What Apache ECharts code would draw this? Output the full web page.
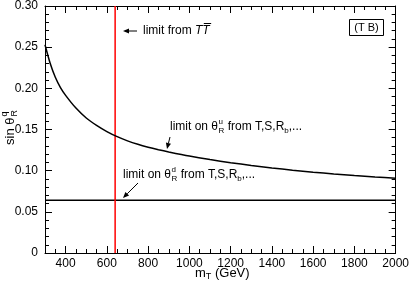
<!DOCTYPE html>
<html><head><meta charset="utf-8">
<script src="https://cdn.jsdelivr.net/npm/echarts@6/dist/echarts.min.js"></script>
<style>html,body{margin:0;padding:0;background:#fff}#c{width:412px;height:284px}</style>
</head><body><div id="c"></div>
<script>
// ---- data ----
const massT = [300, 325, 350, 375, 400, 450, 500, 550, 600, 650, 700, 750, 800, 850, 900, 1000, 1100, 1200, 1300, 1400, 1500, 1600, 1700, 1800, 1900, 2000];
const sinThetaU = [0.253, 0.2305, 0.2135, 0.201, 0.1915, 0.176, 0.164, 0.155, 0.1475, 0.1413, 0.1362, 0.132, 0.1285, 0.1255, 0.1228, 0.1178, 0.1135, 0.1097, 0.1063, 0.1033, 0.1006, 0.0982, 0.096, 0.0941, 0.0924, 0.0909];
const limitTT = 640;          // vertical limit from T Tbar (GeV)
const limitThetaD = 0.064;    // horizontal limit on theta_R^d
const xRange = [300, 2000];
const yRange = [0, 0.30];
const xMajorTicks = [400, 600, 800, 1000, 1200, 1400, 1600, 1800, 2000];
const xMinorTicks = [350, 450, 500, 550, 650, 700, 750, 850, 900, 950, 1050, 1100, 1150, 1250, 1300, 1350, 1450, 1500, 1550, 1650, 1700, 1750, 1850, 1900, 1950];
const yTickStep = 0.05;

const FONT = 'Liberation Sans';
const chart = echarts.init(document.getElementById('c'), null, {renderer: 'canvas'});

const BLK = {color: '#000', width: 1};
function xAx(pos, ticks, len, showLine, showLabel) {
  return {
    type: 'value', min: xRange[0], max: xRange[1], position: pos,
    axisLine: {show: showLine, onZero: false, lineStyle: {color: '#000', width: 1}},
    axisTick: {show: true, inside: true, length: len, customValues: ticks, lineStyle: {color: '#000', width: 1}},
    axisLabel: {show: showLabel, customValues: ticks, color: '#000', fontFamily: FONT, fontSize: 12, margin: 5,
      formatter: v => String(v)},
    splitLine: {show: false}
  };
}
function yAx(pos, showLabel) {
  return {
    type: 'value', min: yRange[0], max: yRange[1], interval: yTickStep, position: pos,
    axisLine: {show: true, onZero: false, lineStyle: {color: '#000', width: 1}},
    axisTick: {show: true, inside: true, length: 7, lineStyle: {color: '#000', width: 1}},
    minorTick: {show: true, splitNumber: 5, length: 4, lineStyle: {color: '#000', width: 1}},
    axisLabel: {show: showLabel, color: '#000', fontFamily: FONT, fontSize: 12, margin: 7,
      formatter: v => v === 0 ? '0' : v.toFixed(2)},
    splitLine: {show: false}
  };
}

const curve = massT.map((m, i) => [m, sinThetaU[i]]);

const mctx = document.createElement('canvas').getContext('2d');
function fontStr(size, italic) { return (italic ? 'italic ' : '') + size + 'px "' + FONT + '"'; }
function measure(t, size, italic) { mctx.font = fontStr(size, italic); return mctx.measureText(t).width; }
function richLine(x, y, segs) {
  const out = [];
  let cx = x;
  segs.forEach(s => {
    const size = s.s || 12;
    out.push({type: 'text', x: cx + (s.dx || 0), y: y + (s.dy || 0),
      style: {text: s.t, fill: '#000', font: fontStr(size, s.i), verticalAlign: 'middle'}});
    if (s.over) {
      const w = measure(s.t, size, s.i);
      out.push({type: 'line', shape: {x1: cx + 1.5, y1: y - 7.5, x2: cx + w + 1.5, y2: y - 7.5}, style: {stroke: '#000', lineWidth: 1}});
    }
    if (!s.keep) cx += measure(s.t, size, s.i) + (s.dx || 0);
  });
  return out;
}
function arrow(x1, y1, x2, y2) {
  const a = Math.atan2(y2 - y1, x2 - x1), L = 6, W = 2.6;
  const bx = x2 - L * Math.cos(a), by = y2 - L * Math.sin(a);
  const px = -Math.sin(a) * W, py = Math.cos(a) * W;
  return [
    {type: 'line', shape: {x1, y1, x2: bx, y2: by}, style: {stroke: '#000', lineWidth: 1}},
    {type: 'polygon', shape: {points: [[x2, y2], [bx + px, by + py], [bx - px, by - py]]}, style: {fill: '#000'}}
  ];
}

const graphics = [
  {type: 'group', x: 10, y: 145, rotation: Math.PI / 2, children:
    richLine(0, 0, [{t: 'sin θ', s: 13}, {t: 'q', s: 9, dy: -5, dx: 1, keep: true}, {t: 'R', s: 9, dy: 5, dx: 1}])
  },
  ...richLine(195, 273, [{t: 'm', s: 13}, {t: 'T', s: 9, dy: 4}, {t: ' (GeV)', s: 13}]),
  {type: 'rect', shape: {x: 349.5, y: 19.5, width: 34, height: 16}, style: {fill: '#fff', stroke: '#000', lineWidth: 1}},
  {type: 'text', x: 366.5, y: 28, style: {text: '(T B)', fill: '#000', font: fontStr(11), align: 'center', verticalAlign: 'middle'}},
  ...arrow(137, 31, 123, 31),
  ...richLine(143, 31, [{t: 'limit from ', s: 12}, {t: 'T', s: 12, i: true}, {t: 'T', s: 12, i: true, over: true}]),
  ...richLine(170, 127, [{t: 'limit on θ', s: 12}, {t: 'u', s: 8, dy: -5, dx: 0.5, keep: true}, {t: 'R', s: 8, dy: 4, dx: 0.5},
    {t: ' from T,S,R', s: 12}, {t: 'b', s: 8, dy: 4}, {t: ',...', s: 12}]),
  ...arrow(170, 137, 167, 149),
  ...richLine(123, 175, [{t: 'limit on θ', s: 12}, {t: 'd', s: 8, dy: -5, dx: 0.5, keep: true}, {t: 'R', s: 8, dy: 4, dx: 0.5},
    {t: ' from T,S,R', s: 12}, {t: 'b', s: 8, dy: 4}, {t: ',...', s: 12}]),
  ...arrow(138, 183, 123, 198)
];

chart.setOption({
  backgroundColor: '#fff',
  animation: false,
  grid: {left: 45, right: 14, top: 5, bottom: 31, containLabel: false},
  xAxis: [
    xAx('bottom', xMajorTicks, 7, true, true),
    xAx('bottom', xMinorTicks, 4, false, false),
    xAx('top', xMajorTicks, 7, true, false),
    xAx('top', xMinorTicks, 4, false, false)
  ],
  yAxis: [yAx('left', true), yAx('right', false)],
  series: [
    {type: 'line', xAxisIndex: 0, yAxisIndex: 0, data: [[xRange[0], limitThetaD], [xRange[1], limitThetaD]],
      showSymbol: false, lineStyle: {color: '#000', width: 1.5}},
    {type: 'line', xAxisIndex: 0, yAxisIndex: 0, data: [[limitTT, yRange[0]], [limitTT, yRange[1]]],
      showSymbol: false, lineStyle: {color: '#ff0000', width: 1.5}},
    {type: 'line', xAxisIndex: 0, yAxisIndex: 0, data: curve, smooth: 0.25,
      showSymbol: false, lineStyle: {color: '#000', width: 1.5}}
  ],
  graphic: graphics
});
</script></body></html>
